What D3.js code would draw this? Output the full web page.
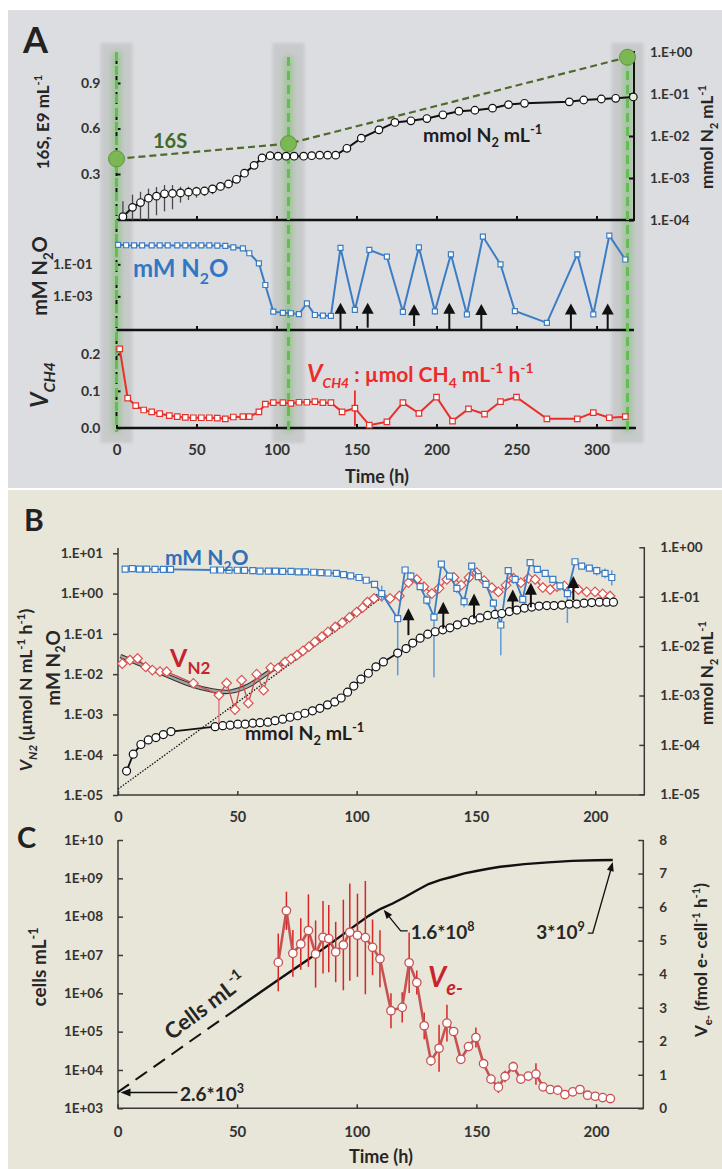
<!DOCTYPE html>
<html><head><meta charset="utf-8">
<script src="https://cdn.jsdelivr.net/npm/d3@7"></script>
<style>html,body{margin:0;padding:0;background:#fff}</style>
</head><body>
<script>
// ================= Panel A data =================
const aSampleT = [0, 107.5, 319.4];              // sampling times (green markers)
const a16sV = [0.40, 0.50, 1.07];                 // 16S copies, E9 per mL
const aTimeTicks = [0, 50, 100, 150, 200, 250, 300];

const aN2T = [4,10,15,20,25,30,35,40,45,50,55,60,65,70,75,80,86,91,96,101,106,111,117,122,127,132,137,144,153,164,174,184,194,204,214,224,235,245,255,283,292,303,312,323];
const aN2V = [1.2e-4,2.0e-4,2.6e-4,3.3e-4,3.7e-4,4.2e-4,4.3e-4,4.4e-4,4.6e-4,4.8e-4,4.9e-4,5.5e-4,6.3e-4,7.2e-4,9.3e-4,1.3e-3,2.0e-3,3.0e-3,3.4e-3,3.3e-3,3.3e-3,3.3e-3,3.3e-3,3.4e-3,3.5e-3,3.5e-3,3.5e-3,5.1e-3,8.9e-3,1.4e-2,2.1e-2,2.3e-2,2.6e-2,3.2e-2,3.9e-2,4.1e-2,4.6e-2,5.6e-2,6.0e-2,6.5e-2,7.2e-2,7.6e-2,7.9e-2,8.5e-2];
const aN2Sd = [1.6e-4,2.0e-4,2.1e-4,2.3e-4,2.4e-4,2.6e-4,2.5e-4,1.8e-4,1.6e-4,1.4e-4,1.2e-4,1.4e-4,1.3e-4,1.3e-4,1.5e-4,2e-4,2.2e-4,3e-4,3.5e-4,3.5e-4,3.5e-4,3.5e-4,3.5e-4,3.5e-4,3.5e-4,3.5e-4,3.5e-4,5e-4,9e-4,1.4e-3,2e-3,2.3e-3,2.6e-3,3.2e-3,4e-3,4e-3,4.5e-3,5.5e-3,6e-3,6.5e-3,7e-3,7.5e-3,8e-3,0];

const aN2oT = [1,6,11,16,22,27,32,38,43,48,53,58,63,68,73,79,83,89,93,98,104,109,114,119,124,129,134,140,149,158,169,179,189,199,209,219,229,240,249,269,288,298,308,318];
const aN2oV = [1.66,1.55,1.51,1.51,1.51,1.51,1.51,1.51,1.51,1.51,1.51,1.51,1.48,1.41,1.15,1.0,0.49,0.115,5.1e-3,1.1e-4,9.3e-5,8.7e-5,7.8e-5,3.6e-4,6.8e-5,6.2e-5,5.9e-5,1.05,1.4e-4,0.79,0.30,1.05e-4,1.15,1.15e-4,0.42,7.4e-5,5.4,0.1,1.2e-4,2.2e-5,0.42,7.4e-5,6.2,0.2];
const aN2oSd = [0,0,0,0,0,0,0,0,0,0,0,0,0,0,0,0,0,0,0,0,0,0,0,0,0,0,0,0,0,0,0.12,0,0,0,0.15,0,0,0,0,0,0,0,0,0.06];
const aArrowT = [140,157,186,208,228,284,307];     // N2O injections
const aArrowTip = [4.0e-4,4.0e-4,3.2e-4,4.0e-4,3.3e-4,3.6e-4,3.6e-4];
const aArrowBase = [9e-6,1.1e-5,1.4e-5,9e-6,9e-6,9e-6,9e-6];

const aCh4T = [2,7,12,17,22,27,33,38,43,48,53,58,63,68,73,79,83,89,93,98,104,109,114,119,124,129,134,141,149,158,169,179,189,200,210,220,230,240,250,269,288,298,308,318];
const aCh4V = [0.214,0.080,0.060,0.048,0.043,0.038,0.033,0.030,0.028,0.027,0.027,0.027,0.026,0.024,0.029,0.030,0.030,0.043,0.064,0.068,0.068,0.066,0.069,0.069,0.071,0.068,0.068,0.043,0.053,0.007,0.016,0.068,0.039,0.083,0.018,0.051,0.037,0.071,0.083,0.024,0.024,0.041,0.027,0.030];
const aCh4Sd = [0,0,0,0,0,0,0,0,0,0,0,0,0,0,0,0,0,0,0,0,0,0,0,0,0,0,0,0,0.048,0,0,0,0.008,0,0.008,0,0,0.006,0,0,0.006,0,0,0];

// ================= Panel B data =================
const bTimeTicks = [0, 50, 100, 150, 200];
const bN2oT = [3,6,9,12,15.5,19,22,40,43,46.5,50,53,56.5,59.5,63,66,69,72.5,75.5,78.5,82,85,88,91.5,94.5,97.5,101,104,107.5,110.5,117.2,120.3,122.7,126.6,129.4,132.4,135.5,138.9,142,145,148.2,151,154.2,157.3,160.4,163.5,166.4,169.6,172.7,175.7,179,182.2,185.2,188.3,191.5,194.3,197.5,200.6,204.1,206.9];
const bN2oV = [4.07,4.17,4.07,4.07,3.98,3.98,3.98,3.85,3.85,3.80,3.80,3.76,3.72,3.63,3.63,3.59,3.55,3.55,3.47,3.47,3.39,3.31,3.24,3.16,2.95,2.75,2.51,2.14,1.70,1.0,0.24,3.85,2.72,1.48,0.69,0.26,5.37,2.72,1.35,0.63,4.79,2.63,1.70,0.58,0.166,3.72,2.24,0.72,5.89,3.98,3.16,2.24,1.55,1.0,6.17,4.79,4.27,3.72,3.16,2.51];
// error bar extent below / above each point, in decades
const bN2oDn = [0,0,0,0,0,0,0,0,0,0,0,0,0,0,0,0,0,0,0,0,0,0,0,0,0,0,0,0,0,0.2,1.41,0.08,0.1,0.08,0.12,1.49,0.05,0.08,0.12,0.14,0.05,0.06,0.1,0.1,0.75,0.05,0.06,0.1,0.05,0.05,0.05,0.06,0.12,0.73,0.05,0.05,0.06,0.12,0.12,0.2];
const bN2oUp = [0,0,0,0,0,0,0,0,0,0,0,0,0,0,0,0,0,0,0,0,0,0,0,0,0,0,0,0,0,0.2,0,0.08,0.1,0.08,0.12,0,0.05,0.05,0.12,0.12,0.05,0.06,0.1,0.1,0,0.05,0.06,0.1,0.05,0.05,0.05,0.06,0.1,0.05,0.05,0.05,0.06,0.1,0.12,0.18];

const bVn2T = [1.8,5,8.2,11.6,14.4,17.6,20.4,31.6,42.3,45.5,49,51.8,54.6,58.1,61,64,67,70,72.5,75,77.5,80,82.5,85.4,88,91,94,97,100,102.5,104.5,107.3,110.5,114,117.9,121.7,125.2,128.2,131.5,134.5,137.8,140.8,143.8,147.1,150.3,153.4,156.6,159.4,162.6,165.7,168.8,172,174.8,178,181.1,183.9,187,190,192.9,196.4,199.9,203.1,206.2];
const bVn2V = [0.0182,0.0224,0.0245,0.0151,0.0126,0.0115,0.0115,0.0059,0.0030,0.0060,0.00132,0.0071,0.0019,0.010,0.0040,0.0145,0.0141,0.020,0.024,0.0295,0.038,0.048,0.063,0.085,0.112,0.148,0.19,0.257,0.347,0.447,0.617,0.759,0.871,0.759,0.871,1.86,2.24,1.48,1.0,1.35,2.24,2.51,1.62,2.51,3.31,2.09,1.41,1.10,1.62,2.40,1.86,2.40,2.24,1.41,1.26,1.48,1.55,1.38,1.26,1.10,1.10,0.98,0.87];
const bVn2Dn = [0,0,0,0,0,0,0,0.06,0.7,0.08,0.12,0.08,0.1,0.08,0.1,0.08,0.05,0.05,0.05,0.05,0.05,0.05,0.05,0.05,0.05,0.05,0.05,0.05,0.05,0.05,0.05,0.05,0.05,0.05,0.05,0.05,0.05,0.05,0.05,0.05,0.05,0.05,0.05,0.05,0.05,0.05,0.05,0.05,0.05,0.05,0.05,0.05,0.05,0.05,0.05,0.05,0.05,0.05,0.05,0.05,0.05,0.05,0.05];
const bVn2Up = [0,0,0,0,0,0,0,0.06,0.12,0.08,0.08,0.08,0.08,0.08,0.08,0.08,0.05,0.05,0.05,0.05,0.05,0.05,0.05,0.05,0.05,0.05,0.05,0.05,0.05,0.05,0.05,0.05,0.05,0.05,0.05,0.05,0.05,0.05,0.05,0.05,0.05,0.05,0.05,0.05,0.05,0.05,0.05,0.05,0.05,0.05,0.05,0.05,0.05,0.05,0.05,0.05,0.05,0.05,0.05,0.05,0.05,0.05,0.05];
// smoothed V_N2 trend and exponential fit
const bTrendT = [1,10,20,30,40,47,55,61,67,75,85,95,105,109];
const bTrendV = [0.0282,0.0170,0.00955,0.00525,0.0038,0.00339,0.0050,0.00933,0.0158,0.0316,0.0832,0.224,0.603,0.891];
const bFitT = [0, 110];
const bFitV = [1.4e-5, 0.76];

const bN2T = [3.6,6.4,9.6,12.7,15.9,19.0,22.2,40.7,43.9,47.0,50.2,53.3,56.5,59.5,62.8,65.8,69.0,72.1,75.3,78.3,81.5,84.6,87.8,90.8,93.5,96.2,98.8,101.8,104.9,108.1,111.2,117.2,120.7,123.5,126.6,129.8,132.9,136.1,139.1,142.2,145.4,148.7,151.7,154.9,158.0,160.8,164.0,167.1,170.3,173.4,176.4,179.7,182.7,186.0,189.1,192.2,195.3,198.5,201.7,204.8,207.6];
const bN2V = [2.95e-5,6.5e-5,1.02e-4,1.26e-4,1.41e-4,1.62e-4,1.86e-4,2.34e-4,2.45e-4,2.51e-4,2.63e-4,2.63e-4,2.75e-4,2.82e-4,2.88e-4,3.09e-4,3.31e-4,3.63e-4,3.89e-4,4.37e-4,4.90e-4,5.50e-4,6.46e-4,7.41e-4,8.91e-4,1.17e-3,1.55e-3,2.14e-3,2.82e-3,3.80e-3,4.79e-3,7.24e-3,8.91e-3,1.15e-2,1.45e-2,1.74e-2,1.95e-2,2.14e-2,2.34e-2,2.69e-2,3.02e-2,3.39e-2,3.72e-2,4.17e-2,4.37e-2,4.57e-2,5.01e-2,5.37e-2,5.89e-2,6.17e-2,6.46e-2,6.61e-2,6.61e-2,6.76e-2,7.08e-2,7.08e-2,7.41e-2,7.59e-2,7.76e-2,7.76e-2,7.76e-2];

const bArrowT = [121.7,136.3,149.2,165.4,173,190.8];
const bArrowTip = [0.43,0.63,1.0,1.26,1.86,2.75];
const bArrowBase = [0.093,0.135,0.24,0.355,0.457,0.69];

// ================= Panel C data =================
const cTimeTicks = [0, 50, 100, 150, 200];
const cCellT = [0,10,20,30,40,50,60,70,80,90,100,105,110,115,120,125,130,135,140,145,150,155,160,170,180,190,200,207];
const cCellV = [2.6e3,7.1e3,1.95e4,5.4e4,1.48e5,4.0e5,1.1e6,2.95e6,7.9e6,2.2e7,6.3e7,1.05e8,1.6e8,2.2e8,3.2e8,4.8e8,7.1e8,9.1e8,1.1e9,1.35e9,1.55e9,1.78e9,2.0e9,2.35e9,2.6e9,2.85e9,2.95e9,3.0e9];
const cDashedUntil = 50;   // extrapolated part of the cell curve
const cVeT = [67.2,70.6,73.3,76.6,79.8,82.8,85.9,88.3,91.2,94.4,97.1,100.3,103.6,106.6,109.7,114.3,119.0,121.9,125.1,128.2,131.0,134.4,137.7,140.5,143.5,146.7,149.8,153.0,156.1,159.2,162.0,165.4,168.6,171.7,174.9,177.9,180.9,184.0,187.0,190.3,193.3,196.5,199.7,202.8,206.0];
const cVeV = [4.35,5.89,4.62,4.90,5.30,4.60,5.10,5.06,4.66,4.87,5.25,5.16,5.09,4.80,4.46,2.91,3.01,4.34,3.75,2.46,1.42,1.79,2.54,2.29,1.46,1.84,2.11,1.33,0.87,0.63,0.95,1.24,0.87,0.96,1.02,0.64,0.56,0.54,0.41,0.49,0.56,0.39,0.36,0.32,0.29];
const cVeSd = [0.86,0.57,0.70,0.77,1.08,1.00,1.08,1.00,0.90,1.35,1.45,1.24,1.69,0.83,0.85,0.52,0.45,0.90,0.36,0.40,0.15,0.70,0.55,0.12,0.13,0.10,0.30,0.08,0.08,0.17,0.17,0.15,0.08,0.08,0.32,0.12,0.06,0.06,0.08,0.06,0.10,0.05,0.04,0.04,0.03];
const cLeftTicks = [1e3,1e4,1e5,1e6,1e7,1e8,1e9,1e10];
const cRightTicks = [0,1,2,3,4,5,6,7,8];

// ================= drawing =================
const FONT = "Lato, 'Open Sans', 'DejaVu Sans', sans-serif";
const INK = "#262626";
const svg = d3.select("body").append("svg").attr("width", 722).attr("height", 1169).style("display", "block");
svg.append("rect").attr("width", 722).attr("height", 1169).attr("fill", "#fff");
const defs = svg.append("defs");
defs.append("filter").attr("id", "glow").attr("filterUnits", "userSpaceOnUse")
  .attr("x", 0).attr("y", 0).attr("width", 722).attr("height", 1169)
  .append("feGaussianBlur").attr("stdDeviation", 3);
defs.append("filter").attr("id", "soft").attr("filterUnits", "userSpaceOnUse")
  .attr("x", 0).attr("y", 0).attr("width", 722).attr("height", 1169)
  .append("feGaussianBlur").attr("stdDeviation", 1.5);

svg.append("rect").attr("x", 8).attr("y", 10).attr("width", 714).attr("height", 478).attr("fill", "#dcdde0");
svg.append("rect").attr("x", 8).attr("y", 490).attr("width", 714).attr("height", 679).attr("fill", "#e8e5d9");

const fmtE = d => { const e = Math.round(Math.log10(d)); return "1.E" + (e < 0 ? "-" : "+") + String(Math.abs(e)).padStart(2, "0"); };
const fmtE2 = d => { const e = Math.round(Math.log10(d)); return "1E" + (e < 0 ? "-" : "+") + String(Math.abs(e)).padStart(2, "0"); };

function styleAxis(size, color, w) {
  return g => {
    g.select(".domain").remove();
    g.attr("font-family", FONT).attr("font-size", size).attr("font-weight", 700);
    g.selectAll(".tick line").attr("stroke", color || "#111").attr("stroke-width", w || 1.8);
    g.selectAll(".tick text").attr("fill", "#333");
  };
}
function hline(g, x1, x2, y, w, c) {
  return g.append("line").attr("x1", x1).attr("x2", x2).attr("y1", y).attr("y2", y).attr("stroke", c).attr("stroke-width", w);
}
function vline(g, x, y1, y2, w, c) {
  return g.append("line").attr("x1", x).attr("x2", x).attr("y1", y1).attr("y2", y2).attr("stroke", c).attr("stroke-width", w);
}
// text with sub/superscripts
function rich(parent, o, parts) {
  const size = o.size;
  const t = parent.append("text").attr("font-family", FONT).attr("font-weight", 700)
    .attr("font-size", size).attr("fill", o.fill || INK).attr("text-anchor", o.anchor || "start")
    .attr("x", o.x || 0).attr("y", o.y || 0);
  if (o.transform) t.attr("transform", o.transform);
  let shift = 0;
  parts.forEach(p => {
    if (typeof p === "string") p = { t: p };
    let target = 0, fs = p.size || size;
    if (p.sub) { target = size * 0.28; fs = p.size || size * 0.66; }
    if (p.sup) { target = -size * 0.42; fs = p.size || size * 0.66; }
    const ts = t.append("tspan").text(p.t).attr("font-size", fs);
    if (target - shift !== 0) ts.attr("dy", target - shift);
    if (p.it) ts.attr("font-style", "italic");
    shift = target;
  });
  return t;
}
function upArrow(g, x, yTip, yBase, w, h) {
  g.append("line").attr("x1", x).attr("x2", x).attr("y1", yTip + h - 1).attr("y2", yBase)
    .attr("stroke", "#111").attr("stroke-width", 2);
  g.append("path").attr("d", `M${x},${yTip}L${x + w / 2},${yTip + h}L${x - w / 2},${yTip + h}Z`).attr("fill", "#111");
}
function headAt(g, fx, fy, tx, ty, len, hw) {
  const a = Math.atan2(ty - fy, tx - fx);
  const bx = tx - len * Math.cos(a), by = ty - len * Math.sin(a);
  const px = -Math.sin(a) * hw, py = Math.cos(a) * hw;
  g.append("path").attr("d", `M${tx},${ty}L${bx + px},${by + py}L${bx - px},${by - py}Z`).attr("fill", "#111");
}
const square = s => `M${-s / 2},${-s / 2}h${s}v${s}h${-s}Z`;
const diamond = r => `M0,${-r}L${r},0L0,${r}L${-r},0Z`;

// ---------------- Panel A ----------------
const gA = svg.append("g");
const xA = d3.scaleLinear().domain([0, 300]).range([116.5, 596.5]);
const yA16 = d3.scaleLinear().domain([0.3, 0.9]).range([174, 83]);
const yAN2 = d3.scaleLog().domain([1e-4, 1]).range([220, 52]);
const yAN2O = d3.scaleLog().domain([1e-3, 1e-1]).range([296.3, 264.3]);
const yACH4 = d3.scaleLinear().domain([0, 0.2]).range([427.7, 354]);

gA.selectAll("rect.band").data(aSampleT).join("rect").attr("class", "band")
  .attr("x", d => xA(d) - 16).attr("y", 43).attr("width", 32).attr("height", 400)
  .attr("fill", "#c9cacc").attr("filter", "url(#soft)");
gA.selectAll("line.glow").data(aSampleT).join("line").attr("class", "glow")
  .attr("x1", d => xA(d)).attr("x2", d => xA(d)).attr("y1", (d, i) => i === 0 ? 52 : 57).attr("y2", 432)
  .attr("stroke", "#74c063").attr("stroke-width", 9).attr("stroke-opacity", 0.5).attr("filter", "url(#glow)");

// top sub-plot axes
hline(gA, 116.5, 634, 220, 2.6, "#111");
vline(gA, 634, 51, 221, 2, "#111");
gA.append("g").attr("transform", "translate(0,220)")
  .call(d3.axisBottom(xA).tickValues(aTimeTicks.slice(1)).tickFormat("").tickSizeInner(-4).tickSizeOuter(0))
  .call(styleAxis(13, "#111", 2));
gA.append("g").attr("transform", "translate(634,0)")
  .call(d3.axisRight(yAN2).tickValues([1e-4, 1e-3, 1e-2, 1e-1, 1]).tickFormat(fmtE).tickSizeInner(-5).tickSizeOuter(0).tickPadding(16))
  .call(styleAxis(13.5, "#111", 2));
gA.append("g").attr("transform", "translate(116.5,0)")
  .call(d3.axisLeft(yA16).tickValues([0.3, 0.6, 0.9]).tickFormat(d3.format(".1f")).tickSizeInner(-4).tickSizeOuter(0).tickPadding(16))
  .call(styleAxis(14, "#111", 2));

// middle sub-plot axes
hline(gA, 116.5, 634, 330, 2.6, "#111");
gA.append("g").attr("transform", "translate(0,330)")
  .call(d3.axisBottom(xA).tickValues(aTimeTicks.slice(1)).tickFormat("").tickSizeInner(-4).tickSizeOuter(0))
  .call(styleAxis(13, "#111", 2));
gA.append("g").attr("transform", "translate(116.5,0)")
  .call(d3.axisLeft(yAN2O).tickValues([1e-3, 1e-1]).tickFormat(fmtE).tickSizeInner(-4).tickSizeOuter(0).tickPadding(24))
  .call(styleAxis(13.5, "#111", 2));

// bottom sub-plot axes
hline(gA, 116.5, 636, 428, 2.6, "#111");
gA.append("g").attr("transform", "translate(0,428)")
  .call(d3.axisBottom(xA).tickValues(aTimeTicks).tickSizeInner(-4).tickSizeOuter(0).tickPadding(16))
  .call(styleAxis(15, "#111", 2));
gA.append("g").attr("transform", "translate(116.5,0)")
  .call(d3.axisLeft(yACH4).tickValues([0, 0.1, 0.2]).tickFormat(d3.format(".1f")).tickSizeInner(-4).tickSizeOuter(0).tickPadding(16))
  .call(styleAxis(14, "#111", 2));

// shared dashed left axis and green sampling lines
vline(gA, 116.5, 52, 428, 2, "#111").attr("stroke-dasharray", "4,4");
gA.selectAll("line.samp").data(aSampleT).join("line").attr("class", "samp")
  .attr("x1", d => xA(d)).attr("x2", d => xA(d)).attr("y1", (d, i) => i === 0 ? 52 : 57).attr("y2", 432)
  .attr("stroke", "#62bd52").attr("stroke-width", 3).attr("stroke-dasharray", "9,5");

// N2 accumulation (right log axis)
const aN2 = aN2T.map((t, i) => ({ t, v: aN2V[i], sd: aN2Sd[i] }));
gA.append("g").selectAll("line").data(aN2.filter(d => d.sd > 0)).join("line")
  .attr("x1", d => xA(d.t)).attr("x2", d => xA(d.t))
  .attr("y1", d => yAN2(Math.max(d.v - d.sd, 1e-4))).attr("y2", d => yAN2(d.v + d.sd))
  .attr("stroke", "#4a4a4a").attr("stroke-width", 1.3);
gA.append("path").datum(aN2).attr("fill", "none").attr("stroke", "#111").attr("stroke-width", 2)
  .attr("d", d3.line().x(d => xA(d.t)).y(d => yAN2(d.v)));
gA.append("g").selectAll("circle").data(aN2).join("circle")
  .attr("cx", d => xA(d.t)).attr("cy", d => yAN2(d.v)).attr("r", 3.8)
  .attr("fill", (d, i) => i === aN2.length - 1 ? "#e2f0da" : "#fff").attr("stroke", "#111").attr("stroke-width", 1.2);

// 16S
const a16 = aSampleT.map((t, i) => ({ t, v: a16sV[i] }));
gA.append("path").datum(a16).attr("fill", "none").attr("stroke", "#4f6a2c").attr("stroke-width", 2.2)
  .attr("stroke-dasharray", "7,4").attr("d", d3.line().x(d => xA(d.t)).y(d => yA16(d.v)));
gA.append("g").selectAll("circle").data(a16).join("circle")
  .attr("cx", d => xA(d.t)).attr("cy", d => yA16(d.v)).attr("r", 8)
  .attr("fill", "#7bb752").attr("stroke", "#5d963f").attr("stroke-width", 1);

// N2O (middle)
const aN2o = aN2oT.map((t, i) => ({ t, v: aN2oV[i], sd: aN2oSd[i] }));
gA.append("g").selectAll("line").data(aN2o.filter(d => d.sd > 0)).join("line")
  .attr("x1", d => xA(d.t)).attr("x2", d => xA(d.t))
  .attr("y1", d => yAN2O(d.v * (1 + d.sd * 3))).attr("y2", d => yAN2O(d.v * (1 - d.sd * 3)))
  .attr("stroke", "#3b7dc4").attr("stroke-width", 1.5);
gA.append("path").datum(aN2o).attr("fill", "none").attr("stroke", "#3b7dc4").attr("stroke-width", 2)
  .attr("d", d3.line().x(d => xA(d.t)).y(d => yAN2O(d.v)));
gA.append("g").selectAll("path").data(aN2o).join("path")
  .attr("transform", d => `translate(${xA(d.t)},${yAN2O(d.v)})`).attr("d", square(5))
  .attr("fill", "#fff").attr("stroke", "#3b7dc4").attr("stroke-width", 1.2);
aArrowT.forEach((t, i) => upArrow(gA, xA(t), yAN2O(aArrowTip[i]), yAN2O(aArrowBase[i]), 12, 11));

// CH4 oxidation rate (bottom)
const aCh4 = aCh4T.map((t, i) => ({ t, v: aCh4V[i], sd: aCh4Sd[i] }));
gA.append("g").selectAll("line").data(aCh4.filter(d => d.sd > 0)).join("line")
  .attr("x1", d => xA(d.t)).attr("x2", d => xA(d.t))
  .attr("y1", d => yACH4(d.v + d.sd)).attr("y2", d => yACH4(Math.max(0, d.v - d.sd)))
  .attr("stroke", "#e8302a").attr("stroke-width", 1.8);
gA.append("path").datum(aCh4).attr("fill", "none").attr("stroke", "#e8302a").attr("stroke-width", 2)
  .attr("d", d3.line().x(d => xA(d.t)).y(d => yACH4(d.v)));
gA.append("g").selectAll("path").data(aCh4).join("path")
  .attr("transform", d => `translate(${xA(d.t)},${yACH4(d.v)})`).attr("d", square(5.5))
  .attr("fill", "#fff").attr("stroke", "#e8302a").attr("stroke-width", 1.2);

// Panel A texts
gA.append("text").attr("x", 23).attr("y", 53).attr("font-family", FONT).attr("font-weight", 700).attr("font-size", 36).attr("fill", "#222").text("A");
rich(gA, { size: 20, x: 153, y: 148, fill: "#3f6a28" }, ["16S"]);
rich(gA, { size: 19.5, x: 423, y: 142, fill: "#1e1e1e" }, ["mmol N", { t: "2", sub: true }, " mL", { t: "-1", sup: true }]);
rich(gA, { size: 24, x: 133, y: 277, fill: "#3277c4" }, ["mM N", { t: "2", sub: true }, "O"]);
rich(gA, { size: 21, x: 307, y: 382, fill: "#ee2a2a" }, [{ t: "V", it: true, size: 24 }, { t: "CH4", sub: true, it: true }, " : µmol CH", { t: "4", sub: true }, " mL", { t: "-1", sup: true }, " h", { t: "-1", sup: true }]);
rich(gA, { size: 17, anchor: "middle", transform: "translate(43,122) rotate(-90)", y: 6 }, ["16S, E9 mL", { t: "-1", sup: true }]);
rich(gA, { size: 20, anchor: "middle", transform: "translate(40,276) rotate(-90)", y: 7 }, ["mM N", { t: "2", sub: true }, "O"]);
rich(gA, { size: 24, anchor: "middle", transform: "translate(40,385) rotate(-90)", y: 8 }, [{ t: "V", it: true }, { t: "CH4", sub: true, it: true }]);
rich(gA, { size: 17, anchor: "middle", transform: "translate(707,137) rotate(-90)", y: 6 }, ["mmol N", { t: "2", sub: true }, " mL", { t: "-1", sup: true }]);
rich(gA, { size: 18, anchor: "middle", x: 377, y: 483 }, ["Time (h)"]);

// ---------------- Panel B ----------------
const gB = svg.append("g");
const xB = d3.scaleLinear().domain([0, 200]).range([118, 595.3]);
const yBL = d3.scaleLog().domain([1e-5, 10]).range([795, 553.3]);
const yBR = d3.scaleLog().domain([1e-5, 1]).range([794.3, 547.3]);
const AX = "#3a3a3a";
vline(gB, 118, 548, 795.5, 1.5, AX);
hline(gB, 118, 644.3, 795, 1.5, AX);
vline(gB, 644.3, 547, 795.5, 1.5, AX);
gB.append("g").attr("transform", "translate(118,0)")
  .call(d3.axisLeft(yBL).tickValues([1e-5, 1e-4, 1e-3, 1e-2, 1e-1, 1, 10]).tickFormat(fmtE).tickSizeInner(5).tickSizeOuter(0).tickPadding(10))
  .call(styleAxis(13.5, AX, 1.5));
gB.append("g").attr("transform", "translate(644.3,0)")
  .call(d3.axisRight(yBR).tickValues([1e-5, 1e-4, 1e-3, 1e-2, 1e-1, 1]).tickFormat(fmtE).tickSizeInner(-5).tickSizeOuter(0).tickPadding(16))
  .call(styleAxis(13.5, AX, 1.5));
gB.append("g").attr("transform", "translate(0,795)")
  .call(d3.axisBottom(xB).tickValues(bTimeTicks).tickSizeInner(-4).tickSizeOuter(0).tickPadding(17))
  .call(styleAxis(14.5, AX, 1.5));

// trend & fit
const bTrend = bTrendT.map((t, i) => ({ t, v: bTrendV[i] }));
const trendLine = d3.line().curve(d3.curveBasis).x(d => xB(d.t)).y(d => yBL(d.v));
gB.append("path").datum(bTrend).attr("fill", "none").attr("stroke", "#333").attr("stroke-width", 4.5).attr("d", trendLine);
gB.append("path").datum(bTrend).attr("fill", "none").attr("stroke", "#a5a5a5").attr("stroke-width", 2.4).attr("d", trendLine);
const bFit = bFitT.map((t, i) => ({ t, v: bFitV[i] }));
gB.append("path").datum(bFit).attr("fill", "none").attr("stroke", "#111").attr("stroke-width", 1.3)
  .attr("stroke-dasharray", "1.5,1.5").attr("d", d3.line().x(d => xB(d.t)).y(d => yBL(d.v)));

// V_N2 diamonds
const bVn2 = bVn2T.map((t, i) => ({ t, v: bVn2V[i], dn: bVn2Dn[i], up: bVn2Up[i] }));
gB.append("g").selectAll("line").data(bVn2.filter(d => d.dn + d.up > 0)).join("line")
  .attr("x1", d => xB(d.t)).attr("x2", d => xB(d.t))
  .attr("y1", d => yBL(d.v * Math.pow(10, d.up))).attr("y2", d => yBL(d.v / Math.pow(10, d.dn)))
  .attr("stroke", "#e07070").attr("stroke-width", 1.3);
gB.append("path").datum(bVn2).attr("fill", "none").attr("stroke", "#cf4b4b").attr("stroke-width", 1.3)
  .attr("d", d3.line().x(d => xB(d.t)).y(d => yBL(d.v)));
gB.append("g").selectAll("path").data(bVn2).join("path")
  .attr("transform", d => `translate(${xB(d.t)},${yBL(d.v)})`).attr("d", diamond(4.8))
  .attr("fill", "#fff").attr("stroke", "#d9534f").attr("stroke-width", 1.2);

// N2O squares
const bN2o = bN2oT.map((t, i) => ({ t, v: bN2oV[i], dn: bN2oDn[i], up: bN2oUp[i] }));
gB.append("g").selectAll("line").data(bN2o.filter(d => d.dn + d.up > 0)).join("line")
  .attr("x1", d => xB(d.t)).attr("x2", d => xB(d.t))
  .attr("y1", d => yBL(d.v * Math.pow(10, d.up))).attr("y2", d => yBL(d.v / Math.pow(10, d.dn)))
  .attr("stroke", "#5f9bd6").attr("stroke-width", 1.5);
gB.append("path").datum(bN2o).attr("fill", "none").attr("stroke", "#3b7dc4").attr("stroke-width", 1.8)
  .attr("d", d3.line().x(d => xB(d.t)).y(d => yBL(d.v)));
gB.append("g").selectAll("path").data(bN2o).join("path")
  .attr("transform", d => `translate(${xB(d.t)},${yBL(d.v)})`).attr("d", square(6))
  .attr("fill", "#fff").attr("stroke", "#3b7dc4").attr("stroke-width", 1.2);

// N2 circles (right axis)
const bN2 = bN2T.map((t, i) => ({ t, v: bN2V[i] }));
gB.append("path").datum(bN2).attr("fill", "none").attr("stroke", "#111").attr("stroke-width", 1.8)
  .attr("d", d3.line().x(d => xB(d.t)).y(d => yBR(d.v)));
gB.append("g").selectAll("circle").data(bN2).join("circle")
  .attr("cx", d => xB(d.t)).attr("cy", d => yBR(d.v)).attr("r", 4)
  .attr("fill", "#fff").attr("stroke", "#111").attr("stroke-width", 1.2);
bArrowT.forEach((t, i) => upArrow(gB, xB(t), yBL(bArrowTip[i]), yBL(bArrowBase[i]), 12, 12));

// Panel B texts
gB.append("text").attr("x", 24).attr("y", 531).attr("font-family", FONT).attr("font-weight", 700).attr("font-size", 30).attr("fill", "#222").text("B");
rich(gB, { size: 21, x: 165, y: 565, fill: "#2f70ba" }, ["mM N", { t: "2", sub: true }, "O"]);
rich(gB, { size: 25, x: 170, y: 667, fill: "#c8232c" }, ["V", { t: "N2", sub: true, size: 17 }]);
rich(gB, { size: 19.5, x: 245, y: 740, fill: "#1e1e1e" }, ["mmol N", { t: "2", sub: true }, " mL", { t: "-1", sup: true }]);
rich(gB, { size: 17.5, anchor: "middle", transform: "translate(26,690) rotate(-90)", y: 6 },
  [{ t: "V", it: true }, { t: "N2", sub: true, it: true }, " (µmol N mL", { t: "-1", sup: true }, " h", { t: "-1", sup: true }, ")"]);
rich(gB, { size: 19, anchor: "middle", transform: "translate(53,668) rotate(-90)", y: 7 }, ["mM N", { t: "2", sub: true }, "O"]);
rich(gB, { size: 17, anchor: "middle", transform: "translate(707,673) rotate(-90)", y: 6 }, ["mmol N", { t: "2", sub: true }, " mL", { t: "-1", sup: true }]);

// ---------------- Panel C ----------------
const gC = svg.append("g");
const xC = d3.scaleLinear().domain([0, 200]).range([117.5, 596]);
const yCL = d3.scaleLog().domain([1e3, 1e10]).range([1108.3, 840]);
const yCR = d3.scaleLinear().domain([0, 8]).range([1108.3, 840]);
vline(gC, 118, 840, 1109, 1.5, AX);
hline(gC, 118, 643.3, 1108.3, 1.5, AX);
vline(gC, 643.3, 840, 1109, 1.5, AX);
gC.append("g").attr("transform", "translate(118,0)")
  .call(d3.axisLeft(yCL).tickValues(cLeftTicks).tickFormat(fmtE2).tickSizeInner(-5).tickSizeOuter(0).tickPadding(15))
  .call(styleAxis(13.5, AX, 1.5));
gC.append("g").attr("transform", "translate(643.3,0)")
  .call(d3.axisRight(yCR).tickValues(cRightTicks).tickFormat(d3.format("d")).tickSizeInner(-5).tickSizeOuter(0).tickPadding(16))
  .call(styleAxis(13.5, AX, 1.5));
gC.append("g").attr("transform", "translate(0,1108.3)")
  .call(d3.axisBottom(xC).tickValues(cTimeTicks).tickSizeInner(-4).tickSizeOuter(0).tickPadding(18))
  .call(styleAxis(15, AX, 1.5));

// cell density curve
const cCells = cCellT.map((t, i) => ({ t, v: cCellV[i] }));
const cellLine = d3.line().x(d => xC(d.t)).y(d => yCL(d.v));
gC.append("path").datum(cCells.filter(d => d.t <= cDashedUntil)).attr("fill", "none").attr("stroke", "#111")
  .attr("stroke-width", 2).attr("stroke-dasharray", "14,8").attr("d", cellLine);
gC.append("path").datum(cCells.filter(d => d.t >= cDashedUntil)).attr("fill", "none").attr("stroke", "#111")
  .attr("stroke-width", 2.4).attr("d", cellLine);

// V_e- with error bars (right axis)
const cVe = cVeT.map((t, i) => ({ t, v: cVeV[i], sd: cVeSd[i] }));
gC.append("g").selectAll("line").data(cVe).join("line")
  .attr("x1", d => xC(d.t)).attr("x2", d => xC(d.t))
  .attr("y1", d => yCR(d.v + d.sd)).attr("y2", d => yCR(Math.max(0, d.v - d.sd)))
  .attr("stroke", "#d82626").attr("stroke-width", 1.5);
gC.append("path").datum(cVe).attr("fill", "none").attr("stroke", "#c65252").attr("stroke-width", 2.6)
  .attr("d", d3.line().x(d => xC(d.t)).y(d => yCR(d.v)));
gC.append("g").selectAll("circle").data(cVe).join("circle")
  .attr("cx", d => xC(d.t)).attr("cy", d => yCR(d.v)).attr("r", 4.2)
  .attr("fill", "#fff").attr("stroke", "#c65252").attr("stroke-width", 1.3);

// annotations on the cell curve
const first = cCells[0], mid = cCells.find(d => d.t === 110), last = cCells[cCells.length - 1];
{
  const tx = xC(first.t) + 3, ty = yCL(first.v);
  hline(gC, tx + 6, tx + 57, ty, 1.5, "#111");
  headAt(gC, tx + 20, ty, tx, ty, 10, 4);
  rich(gC, { size: 19, x: 180, y: ty + 9 }, ["2.6*10", { t: "3", sup: true }]);
}
{
  const tx = xC(mid.t) + 3, ty = yCL(mid.v) + 1;
  gC.append("polyline").attr("points", `${tx + 24},${ty + 21} ${tx + 17},${ty + 21} ${tx + 4},${ty + 5}`)
    .attr("fill", "none").attr("stroke", "#111").attr("stroke-width", 1.3);
  headAt(gC, tx + 17, ty + 21, tx, ty, 9, 3.5);
  rich(gC, { size: 19, x: tx + 27, y: ty + 29 }, ["1.6*10", { t: "8", sup: true }]);
}
{
  const tx = xC(last.t), ty = yCL(last.v) + 2;
  gC.append("polyline").attr("points", `${tx - 25},${ty + 71} ${tx - 20},${ty + 71} ${tx - 2},${ty + 8}`)
    .attr("fill", "none").attr("stroke", "#111").attr("stroke-width", 1.3);
  headAt(gC, tx - 20, ty + 71, tx, ty, 9, 3.5);
  rich(gC, { size: 19, x: tx - 28, y: ty + 77, anchor: "end" }, ["3*10", { t: "9", sup: true }]);
}

// Panel C texts
gC.append("text").attr("x", 17).attr("y", 848).attr("font-family", FONT).attr("font-weight", 700).attr("font-size", 29).attr("fill", "#222").text("C");
rich(gC, { size: 22, anchor: "middle", transform: "translate(210,1012) rotate(-37)" }, ["Cells mL", { t: "-1", sup: true }]);
rich(gC, { size: 28, x: 428, y: 987, fill: "#c8232c" }, [{ t: "V", it: true }, { t: "e-", sub: true, it: true, size: 20 }]);
rich(gC, { size: 19, anchor: "middle", transform: "translate(39,967) rotate(-90)", y: 7 }, ["cells mL", { t: "-1", sup: true }]);
rich(gC, { size: 17, anchor: "middle", transform: "translate(701,960) rotate(-90)", y: 6 },
  ["V", { t: "e-", sub: true }, " (fmol e- cell", { t: "-1", sup: true }, " h", { t: "-1", sup: true }, ")"]);
rich(gC, { size: 18, anchor: "middle", x: 381, y: 1163 }, ["Time (h)"]);
</script>
</body></html>
